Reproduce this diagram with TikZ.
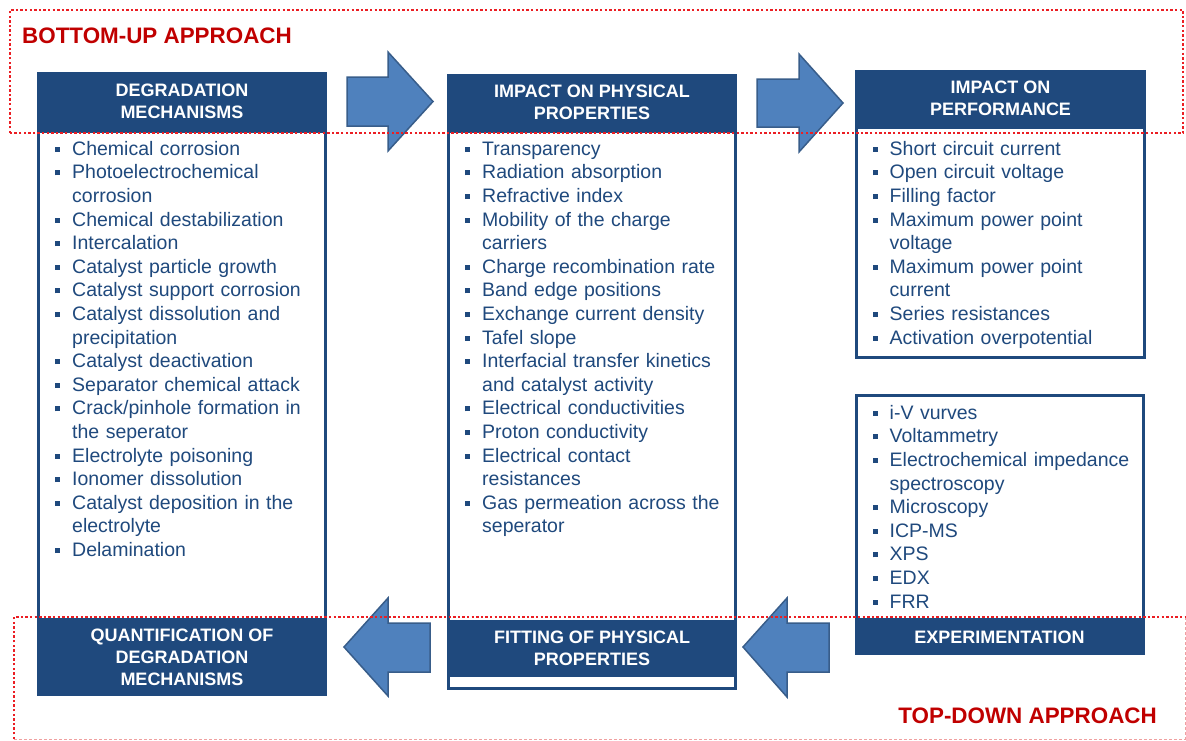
\documentclass[tikz,border=0pt]{standalone}
\usepackage{fontspec}
\setmainfont{Liberation Sans}
\usetikzlibrary{positioning}

\definecolor{hdblue}{RGB}{31,73,125}
\definecolor{arrfill}{RGB}{79,129,189}
\definecolor{arrline}{RGB}{56,93,138}
\definecolor{apred}{RGB}{192,0,0}
\definecolor{dotred}{RGB}{235,30,35}
\definecolor{faintred}{RGB}{240,160,160}

\newcommand{\bitem}[1]{\par\hangindent=17pt\hangafter=1\noindent\makebox[17pt][l]{\rule[3.5pt]{5pt}{5pt}}\strut#1}

\tikzset{
  header/.style={fill=hdblue, text=white, font=\fontsize{18}{22}\selectfont\bfseries, align=center, inner sep=0pt, outer sep=0pt, minimum width=290pt},
  bodybox/.style={draw=hdblue, line width=3pt, fill=white, inner sep=0pt, outer sep=0pt},
  items/.style={text=hdblue, font=\fontsize{19.5}{23.6}\selectfont, text width=275pt, align=left, inner sep=0pt},
  blockarrow/.style={fill=arrfill, draw=arrline, line width=1.5pt, line join=miter},
  approach/.style={text=apred, font=\fontsize{22.4}{26}\selectfont\bfseries, inner sep=0pt},
  dotline/.style={draw=dotred, line width=2.6pt, dash pattern=on 2.4pt off 2.2pt},
  faintline/.style={draw=faintred, line width=0.8pt, dash pattern=on 3pt off 2pt},
}

\begin{document}
\begin{tikzpicture}[x=1pt, y=-1pt]
\useasboundingbox (0,0) rectangle (1186,740);

\node [header, minimum height=59pt] (degH) at (182,101.5) {DEGRADATION\\MECHANISMS};
\node [bodybox, minimum width=287pt, minimum height=488pt, below=0pt of degH] (degB) {};
\node [header, minimum height=77pt, below=0pt of degB] (quant) {QUANTIFICATION OF\\DEGRADATION\\MECHANISMS};
\node [items, below right=0.5pt and 16.5pt of degB.north west] (degL) {%
\bitem{Chemical corrosion}
\bitem{Photoelectrochemical\newline corrosion}
\bitem{Chemical destabilization}
\bitem{Intercalation}
\bitem{Catalyst particle growth}
\bitem{Catalyst support corrosion}
\bitem{Catalyst dissolution and\newline precipitation}
\bitem{Catalyst deactivation}
\bitem{Separator chemical attack}
\bitem{Crack/pinhole formation in\newline the seperator}
\bitem{Electrolyte poisoning}
\bitem{Ionomer dissolution}
\bitem{Catalyst deposition in the\newline electrolyte}
\bitem{Delamination}\par};

\node [header, minimum height=57pt] (physH) at (592,102.5) {IMPACT ON PHYSICAL\\PROPERTIES};
\node [bodybox, minimum width=287pt, minimum height=557.5pt, below=0pt of physH] (physB) {};
\node [header, minimum height=57pt, above=11.5pt of physB.south] (fitH) {FITTING OF PHYSICAL\\PROPERTIES};
\node [items, below right=0.5pt and 16.5pt of physB.north west] (physL) {%
\bitem{Transparency}
\bitem{Radiation absorption}
\bitem{Refractive index}
\bitem{Mobility of the charge\newline carriers}
\bitem{Charge recombination rate}
\bitem{Band edge positions}
\bitem{Exchange current density}
\bitem{Tafel slope}
\bitem{Interfacial transfer kinetics\newline and catalyst activity}
\bitem{Electrical conductivities}
\bitem{Proton conductivity}
\bitem{Electrical contact\newline resistances}
\bitem{Gas permeation across the\newline seperator}\par};

\node [header, minimum width=291pt, minimum height=57pt] (perfH) at (1000.5,98.5) {IMPACT ON\\PERFORMANCE};
\node [bodybox, minimum width=288pt, minimum height=230pt, below=0pt of perfH] (perfB) {};
\node [items, below right=4.5pt and 16pt of perfB.north west] (perfL) {%
\bitem{Short circuit current}
\bitem{Open circuit voltage}
\bitem{Filling factor}
\bitem{Maximum power point\newline voltage}
\bitem{Maximum power point\newline current}
\bitem{Series resistances}
\bitem{Activation overpotential}\par};

\node [header, minimum height=36pt] (expH) at (999.5,637) {EXPERIMENTATION};
\node [bodybox, minimum width=287pt, minimum height=223.5pt, above=0pt of expH] (expB) {};
\node [items, below right=0pt and 16.5pt of expB.north west] (expL) {%
\bitem{i-V vurves}
\bitem{Voltammetry}
\bitem{Electrochemical impedance\newline spectroscopy}
\bitem{Microscopy}
\bitem{ICP-MS}
\bitem{XPS}
\bitem{EDX}
\bitem{FRR}\par};

\draw [blockarrow] (347,77) -- (388,77) -- (388,52) -- (433,101.5) -- (388,151) -- (388,126) -- (347,126) -- cycle;
\draw [blockarrow] (757,79) -- (799,79) -- (799,54) -- (843,103) -- (799,152) -- (799,127) -- (757,127) -- cycle;
\draw [blockarrow] (430,623) -- (388,623) -- (388,598) -- (344,647) -- (388,696) -- (388,672) -- (430,672) -- cycle;
\draw [blockarrow] (829,623) -- (787,623) -- (787,598) -- (743,647) -- (787,697) -- (787,672) -- (829,672) -- cycle;

\node [approach, anchor=west] (bottomup) at (22,36) {BOTTOM-UP APPROACH};
\node [approach, anchor=east] (topdown) at (1157,716) {TOP-DOWN APPROACH};

\draw [dotline] (10,133) -- (10,10) -- (1183,10) -- (1183,133) -- cycle;
\draw [faintline] (1185,617) -- (1185,739) -- (14,739);
\draw [dotline] (14,739) -- (14,617) -- (1185,617);
\end{tikzpicture}
\end{document}
